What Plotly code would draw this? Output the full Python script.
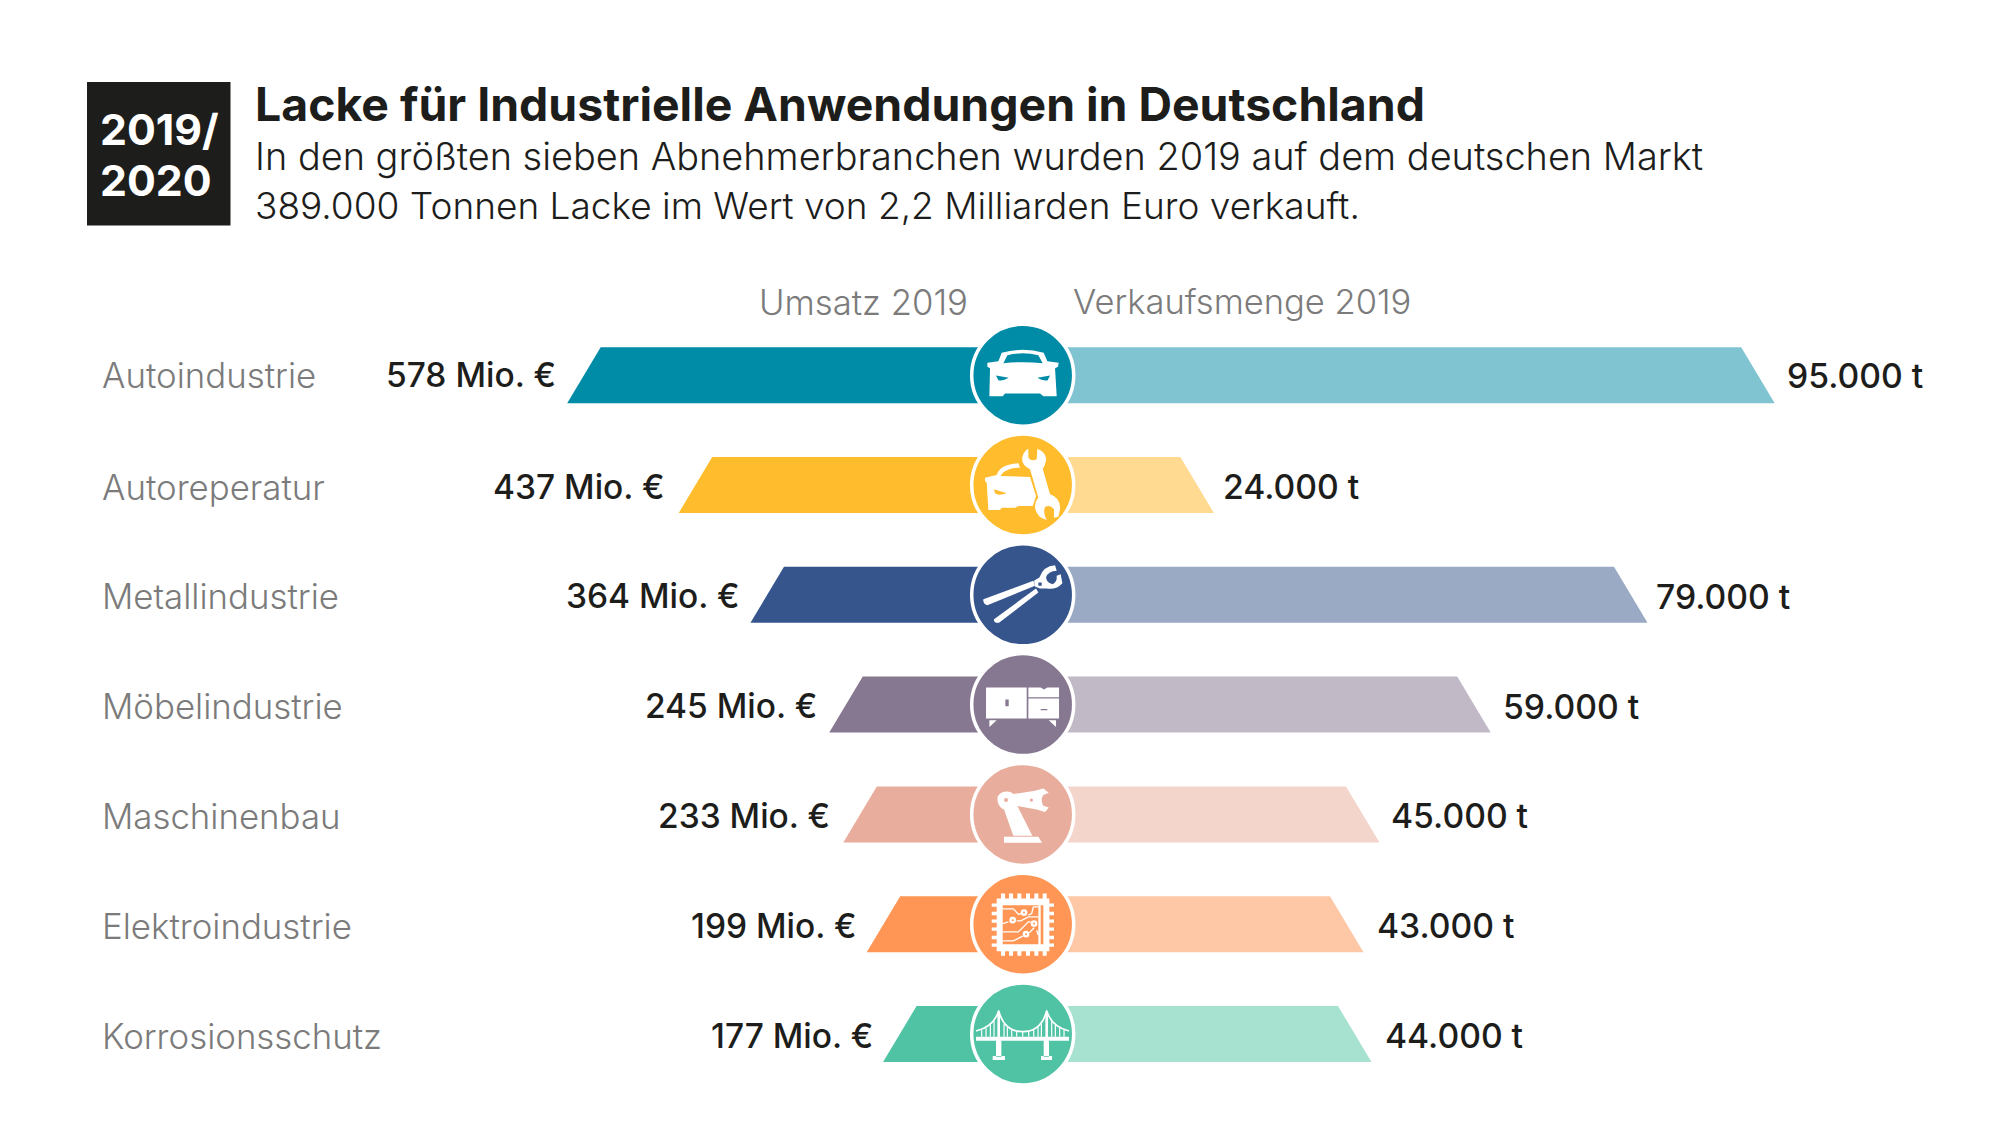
import re
import plotly.graph_objects as go

# ---------- data ----------
branchen = ["Autoindustrie", "Autoreperatur", "Metallindustrie", "Möbelindustrie",
            "Maschinenbau", "Elektroindustrie", "Korrosionsschutz"]
umsatz_labels = ["578 Mio. €", "437 Mio. €", "364 Mio. €", "245 Mio. €", "233 Mio. €", "199 Mio. €", "177 Mio. €"]
menge_labels = ["95.000 t", "24.000 t", "79.000 t", "59.000 t", "45.000 t", "43.000 t", "44.000 t"]
# bar lengths as drawn in the picture (they are not strictly proportional to the labels)
umsatz_bar = [584, 441, 349, 248, 230, 200, 179]
menge_bar = [94000, 23900, 78100, 58500, 44600, 42600, 43600]
farben_links = ["#008BA6", "#FFBC2D", "#35558C", "#877891", "#E9AD9D", "#FF9655", "#4FC3A4"]
farben_rechts = ["#80C4D2", "#FFDA90", "#9AA9C4", "#C2B9C7", "#F3D5CC", "#FEC8A6", "#A7E1D0"]
label_gap_l = [9, 12, 8, 10, 11, 8, 8]
label_gap_r = [10, 7, 6, 10, 9, 11, 11]

W, H = 2000, 1126
CX = 1022.7
PX_EUR, PX_T = 0.78, 0.008
ROW0, ROWSTEP, BAR_H = 375.2, 109.8, 56
SLANT_PX = 33.5
FONT = "Inter"
DARK = "#1D1D1B"

fig = go.Figure()
half = BAR_H / 2 / ROWSTEP
for i in range(len(branchen)):
    s_l = SLANT_PX / PX_EUR
    s_r = SLANT_PX / PX_T
    fig.add_trace(go.Scatter(
        x=[0, umsatz_bar[i], umsatz_bar[i] - s_l, 0, 0],
        y=[i + half, i + half, i - half, i - half, i + half],
        fill="toself", fillcolor=farben_links[i], mode="lines", line=dict(width=0),
        name=branchen[i] + " Umsatz", xaxis="x", yaxis="y", hoverinfo="skip", showlegend=False))
    fig.add_trace(go.Scatter(
        x=[0, menge_bar[i], menge_bar[i] - s_r, 0, 0],
        y=[i + half, i + half, i - half, i - half, i + half],
        fill="toself", fillcolor=farben_rechts[i], mode="lines", line=dict(width=0),
        name=branchen[i] + " Menge", xaxis="x2", yaxis="y", hoverinfo="skip", showlegend=False))

shapes = []
annos = []

def txt(x, y, s, size, color=DARK, weight=400, anchor="left", xref="paper", yref="paper", xshift=0, yshift=0):
    annos.append(dict(x=x, y=y, text=s, xref=xref, yref=yref, xanchor=anchor, yanchor="middle",
                      showarrow=False, xshift=xshift, yshift=yshift,
                      font=dict(family=FONT, size=size, color=color, weight=weight)))

def px(x, y):
    return x / W, 1 - y / H

# header block
x0, y0 = px(87, 82)
x1, y1 = px(230.5, 225.5)
shapes.append(dict(type="rect", xref="paper", yref="paper", x0=x0, y0=y0, x1=x1, y1=y1,
                   fillcolor=DARK, line=dict(width=0), layer="below"))
txt(*px(97.5, 129), "2019/", 42.8, "white", 700)
txt(*px(97.5, 180.5), "2020", 42.8, "white", 700)
txt(*px(252.5, 103.5), "Lacke für Industrielle Anwendungen in Deutschland", 46.4, DARK, 700)
txt(*px(252.5, 155.5), "In den größten sieben Abnehmerbranchen wurden 2019 auf dem deutschen Markt", 37.9, DARK, 300)
txt(*px(252.5, 205), "389.000 Tonnen Lacke im Wert von 2,2 Milliarden Euro verkauft.", 37.0, DARK, 300)
txt(*px(970, 302), "Umsatz 2019", 34.7, "#7B7B7B", 300, "right")
txt(*px(1070.5, 302), "Verkaufsmenge 2019", 34.5, "#7B7B7B", 300, "left")

for i, b in enumerate(branchen):
    dy = -1.5 if i else 0
    txt(100 / W, i, b, 34.8, "#7B7B7B", 300, "left", "paper", "y", yshift=dy)
    txt(umsatz_bar[i], i, umsatz_labels[i], 33.5, DARK, 500, "right", "x", "y", -label_gap_l[i], dy)
    txt(menge_bar[i], i, menge_labels[i], 33.7, DARK, 500, "left", "x2", "y", label_gap_r[i], dy)

# ---------- icons: paths in local units (3 units = 1 px), y downward ----------
PAIR = re.compile(r"(-?[\d.]+),(-?[\d.]+)")

def icon_path(d, cx, cy):
    return PAIR.sub(lambda m: f"{(float(m[1]) - cx) / 3:.2f},{-(float(m[2]) - cy) / 3:.2f}", d)

def add_icon(row, d, cx, cy, fill=True, width=0, color="white"):
    s = dict(type="path", xref="paper", yref="y", xsizemode="pixel", ysizemode="pixel",
             xanchor=CX / W, yanchor=row, path=icon_path(d, cx, cy), layer="above",
             line=dict(width=width, color=color))
    if fill:
        s["fillcolor"] = color
    shapes.append(s)

def rect(a, b, c, d):
    return f"M{a},{b} L{c},{b} L{c},{d} L{a},{d} Z "

def dot(x, y, r):
    return f"M{x-r},{y} Q{x-r},{y-r} {x},{y-r} Q{x+r},{y-r} {x+r},{y} Q{x+r},{y+r} {x},{y+r} Q{x-r},{y+r} {x-r},{y} Z "

for i in range(7):
    shapes.append(dict(type="circle", xref="paper", yref="y", xsizemode="pixel", ysizemode="pixel",
                       xanchor=CX / W, yanchor=i, x0=-51, x1=51, y0=-51, y1=51, layer="above",
                       fillcolor=farben_links[i], line=dict(color="white", width=3.5)))

# car
add_icon(0, "M262,160 L295,155 L305,130 Q368,112 431,130 L442,155 L476,160 L474,172 L465,176 L470,260 L430,260 L420,252 "
            "L315,252 L308,260 L268,260 L270,176 L262,172 Z "
            "M310,161 L322,137 Q368,126 415,137 L428,161 Q368,155 310,161 Z "
            "M288,198 L326,205 Q310,215 295,212 Z M450,198 L412,205 Q428,215 443,212 Z", 368, 197)
# wrench + car
add_icon(1, "M385,418 L385,445 Q395,458 410,450 L412,418 Q440,430 438,452 Q435,470 428,478 L450,555 Q482,565 480,600 "
            "L475,622 L462,625 L462,600 Q450,585 435,593 Q428,610 440,632 Q410,625 405,595 Q405,575 415,565 L390,480 "
            "Q360,465 368,440 Q372,425 385,418 Z", 368, 527)
add_icon(1, "M255,505 L290,497 Q300,465 355,462 L360,475 Q320,475 305,495 L302,500 L390,503 L408,560 L398,590 L355,590 "
            "L345,595 L305,595 L300,602 L265,602 L260,520 L255,515 Z M282,540 L320,552 Q295,560 285,552 Z", 368, 527)
# pliers
add_icon(2, "M250,870 L400,815 L405,830 L262,888 Q248,885 250,870 Z", 368, 857)
add_icon(2, "M282,930 L408,838 L415,850 L297,941 Q280,942 282,930 Z", 368, 857)
add_icon(2, "M402,815 L418,805 Q430,770 465,768 L470,785 Q445,785 438,805 Q440,822 458,825 Q472,818 470,800 L482,795 L487,822 "
            "Q470,842 440,838 L420,838 L405,832 Z M415,820 L425,820 L425,830 L415,830 Z", 368, 857)
# furniture
add_icon(3, rect(258, 114, 380, 207) + rect(316, 150, 326, 170)
         + "M385,114 L422,114 L432,120 L442,114 L477,114 L477,143 L385,143 Z "
         + rect(385, 147, 477, 207) + rect(422, 178, 442, 182)
         + "M268,212 L290,212 L268,232 Z M446,212 L468,212 L468,232 Z", 368, 165)
# robot arm
add_icon(4, "M292,445 Q295,425 320,424 Q335,425 340,432 L405,422 L430,415 L446,428 L430,435 Q420,450 430,467 L446,472 "
            "L435,486 L410,478 L352,468 L397,557 L340,557 L325,515 L312,478 Q292,470 292,445 Z "
            + dot(318, 450, 6) + dot(394, 450, 5)
            + "M312,560 L415,560 L426,578 L312,578 Z", 368, 493)
# chip
t = ""
for x in (303, 327, 352, 378, 403, 428):
    t += rect(x, 730, x + 12, 745) + rect(x, 903, x + 12, 917)
for y in (760, 785, 808, 832, 857, 880):
    t += rect(275, y, 290, y + 10) + rect(448, y, 462, y + 10)
add_icon(5, t + rect(290, 745, 448, 903) + rect(308, 765, 415, 882) + rect(422, 765, 430, 882), 368, 822)
add_icon(5, "M308,776 L340,776 L355,792 L365,790 M385,795 L395,790 L400,770 L415,770 "
            "M308,820 L325,815 M350,812 L362,812 L385,800 L415,800 "
            "M308,845 L355,845 L385,815 L392,815 M308,872 L340,872 L368,858 "
            "M388,848 L400,835 L402,832 M410,840 L415,855", 368, 822, fill=False, width=1.3)
for (x, y) in ((372, 787), (338, 810), (402, 820), (378, 852)):
    add_icon(5, dot(x, y, 10) + dot(x, y, 3), 368, 822)
# bridge
add_icon(6, rect(228, 1160, 507, 1172) + rect(288, 1172, 304, 1220) + rect(278, 1218, 315, 1230)
         + rect(431, 1172, 447, 1220) + rect(423, 1218, 456, 1230)
         + "M292,1095 L296,1078 L300,1095 L300,1160 L292,1160 Z M436,1095 L440,1078 L444,1095 L444,1160 L436,1160 Z", 368, 1152)
add_icon(6, "M228,1143 Q282,1130 296,1082 M296,1082 Q312,1145 368,1145 Q424,1145 440,1082 M440,1082 Q454,1130 507,1143",
         368, 1152, fill=False, width=1.7)
susp = ""
for x, y in ((245, 1139), (258, 1133), (271, 1124), (282, 1112), (312, 1122), (322, 1132), (335, 1140), (350, 1144),
             (368, 1146), (386, 1144), (401, 1140), (414, 1132), (424, 1122), (455, 1112), (466, 1124), (479, 1133), (492, 1139)):
    susp += f"M{x},{y} L{x},1160 "
add_icon(6, susp, 368, 1152, fill=False, width=1.2)

fig.update_layout(
    width=W, height=H, margin=dict(l=0, r=0, t=0, b=0), showlegend=False,
    paper_bgcolor="white", plot_bgcolor="white",
    xaxis=dict(domain=[0, CX / W], range=[CX / PX_EUR, 0], visible=False, fixedrange=True),
    xaxis2=dict(domain=[CX / W, 1], range=[0, (W - CX) / PX_T], visible=False, fixedrange=True, anchor="y"),
    yaxis=dict(domain=[0, 1], range=[(H - ROW0) / ROWSTEP, -ROW0 / ROWSTEP], visible=False, fixedrange=True),
    shapes=shapes, annotations=annos,
)
fig.write_html("out.html", config={"displayModeBar": False}, post_script="document.body.style.margin='0';")
